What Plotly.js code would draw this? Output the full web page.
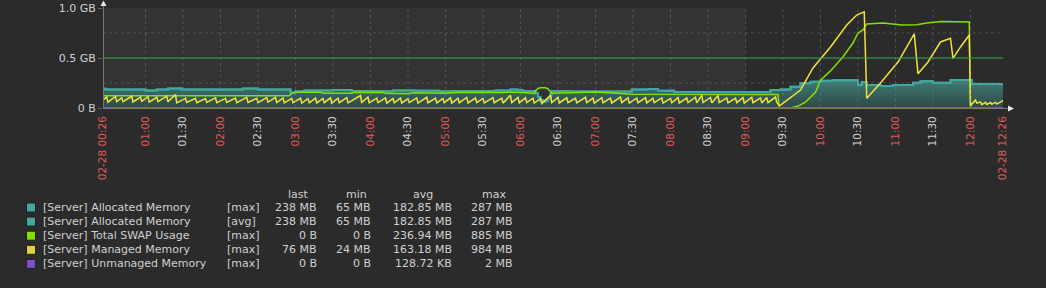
<!DOCTYPE html>
<html><head><meta charset="utf-8">
<script src="https://cdn.plot.ly/plotly-3.0.1.min.js"></script>
<style>html,body{margin:0;padding:0;background:#2b2b2b;}#chart{width:1046px;height:288px;}</style>
</head><body><div id="chart"></div>
<script>
// ---------- data ----------
const DAY = '2024-02-28 ';
const rangeStart = '00:26', rangeEnd = '12:26', workEnd = '09:00';

const tickTimes = ['00:26','01:00','01:30','02:00','02:30','03:00','03:30','04:00','04:30','05:00','05:30','06:00',
  '06:30','07:00','07:30','08:00','08:30','09:00','09:30','10:00','10:30','11:00','11:30','12:00','12:26'];
const tickLabels = ['02-28 00:26','01:00','01:30','02:00','02:30','03:00','03:30','04:00','04:30','05:00','05:30','06:00',
  '06:30','07:00','07:30','08:00','08:30','09:00','09:30','10:00','10:30','11:00','11:30','12:00','02-28 12:26'];

const yTickVals = [0, 512, 1024];           // MB
const yTickLabels = ['0 B', '0.5 GB', '1.0 GB'];
const triggerMB = 512;

// [Server] Allocated Memory (MB)
const allocT = ['00:26','00:28','01:00','01:09','01:18','01:29','02:18','02:30','02:56','03:00','03:07','03:22','03:30','03:45',
  '04:08','04:18','04:35','04:55','05:05','05:40','05:52','05:58','06:02','06:10','06:12','06:14','06:16','06:18','06:20','06:22',
  '06:24','06:25','06:40','07:29','07:42','07:50','08:03','09:20','09:28','09:36','09:44','09:52','10:00','10:10','10:29','10:30',
  '10:33','10:37','10:48','10:58','11:14','11:20','11:30','11:44','12:00','12:01','12:26'];
const allocV = [198,190,180,190,200,190,200,190,160,168,180,178,185,175,
  172,180,176,170,175,178,190,185,175,175,150,110,80,65,75,100,
  140,172,170,190,195,177,164,184,190,218,253,270,280,284,284,235,
  263,235,225,235,259,273,259,287,287,245,238];

// [Server] Total SWAP Usage (MB)
const swapT = ['00:26','02:55','02:57','03:00','03:20','03:22','03:45','03:48','04:10','04:12','04:30','04:35','05:00','05:10',
  '05:45','05:55','06:05','06:11','06:12','06:14','06:16','06:20','06:22','06:24','06:25','07:00','07:30','09:26','09:27','09:36',
  '09:42','09:48','09:52','09:56','10:00','10:08','10:18','10:26','10:30','10:34','10:37','10:50','11:05','11:17','11:25','11:32',
  '11:36','11:59','12:00','12:26'];
const swapV = [125,125,150,162,162,150,150,160,160,150,146,156,150,160,
  160,165,155,150,175,200,208,208,195,165,150,165,140,138,0,0,
  20,60,115,160,285,380,525,665,768,800,860,870,850,852,870,875,
  885,880,0,0];

// [Server] Managed Memory (MB)
const managedT = ['00:26','00:29','00:30','00:36','00:37','00:41','00:42','00:49','00:50','00:56','00:57','01:02','01:03',
  '01:09','01:10','01:17','01:18','01:24','01:25','01:32','01:33','01:40','01:41','01:48','01:49','01:56','01:57','02:04','02:05',
  '02:12','02:13','02:21','02:22','02:29','02:30','02:37','02:38','02:44','02:45','02:50','02:51','02:57','02:58','03:04','03:05',
  '03:10','03:11','03:16','03:17','03:22','03:23','03:28','03:29','03:34','03:35','03:41','03:42','03:52','03:53','03:58','03:59',
  '04:05','04:06','04:12','04:13','04:18','04:19','04:24','04:25','04:30','04:31','04:37','04:38','04:45','04:46','04:52','04:53',
  '04:58','04:59','05:04','05:05','05:10','05:11','05:17','05:18','05:24','05:25','05:30','05:31','05:38','05:39','05:45','05:46',
  '05:52','05:53','05:58','05:59','06:04','06:05','06:10','06:11','06:16','06:17','06:24','06:25','06:30','06:31','06:37','06:38',
  '06:44','06:45','06:52','06:53','06:58','06:59','07:05','07:06','07:12','07:13','07:20','07:21','07:26','07:27','07:33','07:34',
  '07:40','07:41','07:46','07:47','07:53','07:54','08:00','08:01','08:06','08:07','08:13','08:14','08:20','08:21','08:25','08:26',
  '08:32','08:33','08:38','08:39','08:45','08:46','08:52','08:53','08:58','08:59','09:05','09:06','09:12','09:13','09:17','09:18',
  '09:24','09:25','09:27','09:28','09:44','09:54','10:08','10:21','10:29','10:35','10:37','10:48','11:02','11:15','11:18','11:26',
  '11:36','11:44','11:46','11:52','11:59','12:00','12:04','12:05','12:08','12:09','12:12','12:13','12:16','12:17','12:20','12:21','12:26'];
const managedV = [82,112,60,118,64,105,66,120,62,112,68,116,60,
  110,66,122,64,138,52,98,56,100,54,96,58,104,55,98,57,
  102,54,110,58,100,55,106,60,108,56,102,52,98,55,100,50,
  96,54,102,52,98,55,104,50,100,54,106,52,128,58,112,52,
  100,55,104,50,98,54,102,52,96,56,104,50,110,54,100,52,
  98,55,104,50,100,54,108,52,102,55,98,52,106,54,100,50,
  130,56,108,52,104,55,100,50,95,45,130,55,108,52,104,55,
  100,52,110,54,102,50,106,54,100,52,112,55,104,50,100,54,
  106,52,100,55,104,50,98,54,106,52,102,55,110,52,130,56,
  108,52,128,55,104,52,100,55,106,50,110,54,104,52,108,55,
  112,60,24,30,184,410,625,850,952,984,100,256,471,760,350,471,
  676,714,509,625,748,24,82,50,62,35,58,36,56,38,60,40,76];

// [Server] Unmanaged Memory (MB)
const unmanagedT = ['00:26','10:30','10:31','10:32','12:26'];
const unmanagedV = [0,0,2,0,0];

// legend table
const legendNames = ['[Server] Allocated Memory','[Server] Allocated Memory','[Server] Total SWAP Usage','[Server] Managed Memory','[Server] Unmanaged Memory'];
const legendFunc  = ['[max]','[avg]','[max]','[max]','[max]'];
const legendLast  = ['238 MB','238 MB','0 B','76 MB','0 B'];
const legendMin   = ['65 MB','65 MB','0 B','24 MB','0 B'];
const legendAvg   = ['182.85 MB','182.85 MB','236.94 MB','163.18 MB','128.72 KB'];
const legendMax   = ['287 MB','287 MB','885 MB','984 MB','2 MB'];
const legendHeader = ['last','min','avg','max'];

// ---------- style ----------
const C_TEAL = '#40a89f', C_GREEN = '#82e000', C_YELLOW = '#f3e23b', C_PURPLE = '#7b52c8';
const legendColors = [C_TEAL, C_TEAL, C_GREEN, '#e3d13c', C_PURPLE];
const FONT = 'DejaVu Sans, sans-serif';
const TXT = '#d0d0d0', RED = '#e05a5a';
const L = 103, T = 8, PW = 900, PH = 100;
const px = x => (x - L) / PW;      // pixel -> paper
const py = y => (T + PH - y) / PH;
const d = t => DAY + t;

const traces = [
  {x: allocT.map(d), y: allocV, mode: 'lines', line: {color: C_TEAL, width: 2, shape: 'hv'},
   fill: 'tozeroy', fillgradient: {type: 'vertical', start: 0, stop: 1024,
     colorscale: [[0, '#2f4745'], [0.15, '#37635f'], [0.3, '#3f837c'], [1, '#50c2b6']]}},
  {x: allocT.map(d), y: allocV, mode: 'lines', line: {color: C_TEAL, width: 2, shape: 'hv'}},
  {x: swapT.map(d), y: swapV, mode: 'lines', line: {color: C_GREEN, width: 1.5}},
  {x: managedT.map(d), y: managedV, mode: 'lines', line: {color: C_YELLOW, width: 1.5}},
  {x: unmanagedT.map(d), y: unmanagedV, mode: 'lines', line: {color: C_PURPLE, width: 2}}
];

const shapes = [];
// work-period shading
shapes.push({type: 'rect', xref: 'x', yref: 'paper', x0: d(rangeStart), x1: d(workEnd), y0: 0, y1: 1,
  fillcolor: '#333333', line: {width: 0}, layer: 'below'});
// grid
tickTimes.slice(1, -1).forEach(t => shapes.push({type: 'line', xref: 'x', yref: 'paper', x0: d(t), x1: d(t), y0: 0, y1: 1,
  line: {color: 'rgba(130,130,130,0.4)', width: 1, dash: '3px,3px'}, layer: 'above'}));
[256, 768].forEach(v => shapes.push({type: 'line', xref: 'paper', yref: 'y', x0: 0, x1: 1, y0: v, y1: v,
  line: {color: 'rgba(130,130,130,0.4)', width: 1, dash: '3px,3px'}, layer: 'above'}));
// trigger line
shapes.push({type: 'line', xref: 'paper', yref: 'y', x0: 0, x1: 1, y0: triggerMB, y1: triggerMB,
  line: {color: '#34a857', width: 1}, layer: 'above'});
// axes with arrows
shapes.push({type: 'line', xref: 'paper', yref: 'paper', x0: px(103.5), x1: px(103.5), y0: py(108), y1: py(3),
  line: {color: '#777777', width: 1}, layer: 'above'});
shapes.push({type: 'line', xref: 'paper', yref: 'paper', x0: px(103), x1: px(1008), y0: py(108.5), y1: py(108.5),
  line: {color: '#777777', width: 1}, layer: 'above'});
shapes.push({type: 'path', xref: 'paper', yref: 'paper',
  path: `M ${px(100.5)} ${py(6)} L ${px(106.5)} ${py(6)} L ${px(103.5)} ${py(0.5)} Z`,
  fillcolor: '#e8e8e8', line: {width: 0}, layer: 'above'});
shapes.push({type: 'path', xref: 'paper', yref: 'paper',
  path: `M ${px(1008)} ${py(105.5)} L ${px(1008)} ${py(111.5)} L ${px(1014)} ${py(108.5)} Z`,
  fillcolor: '#e8e8e8', line: {width: 0}, layer: 'above'});

const annotations = [];
const rowY = i => 207.5 + i * 14.1;
const colRight = [319, 373, 454, 515];
const colCenter = [298, 356, 423, 494];
legendHeader.forEach((h, j) => annotations.push({xref: 'paper', yref: 'paper', x: px(colCenter[j]), y: py(194),
  text: h, showarrow: false, xanchor: 'center', yanchor: 'middle', font: {family: FONT, size: 11, color: TXT}}));
legendNames.forEach((n, i) => {
  shapes.push({type: 'rect', xref: 'paper', yref: 'paper', x0: px(26.5), x1: px(35.5), y0: py(rowY(i) - 4.5), y1: py(rowY(i) + 4.5),
    fillcolor: legendColors[i], line: {color: '#1e1e1e', width: 1}});
  annotations.push({xref: 'paper', yref: 'paper', x: px(41), y: py(rowY(i)), text: n, showarrow: false,
    xanchor: 'left', yanchor: 'middle', font: {family: FONT, size: 11, color: TXT}});
  annotations.push({xref: 'paper', yref: 'paper', x: px(225), y: py(rowY(i)), text: legendFunc[i], showarrow: false,
    xanchor: 'left', yanchor: 'middle', font: {family: FONT, size: 11, color: TXT}});
  [legendLast[i], legendMin[i], legendAvg[i], legendMax[i]].forEach((v, j) =>
    annotations.push({xref: 'paper', yref: 'paper', x: px(colRight[j]), y: py(rowY(i)), text: v, showarrow: false,
      xanchor: 'right', yanchor: 'middle', font: {family: FONT, size: 11, color: TXT}}));
});

const tickText = tickLabels.map(s => {
  const red = s.length > 5 || s.endsWith(':00');
  return red ? `<span style="color:${RED}">${s}</span>` : s;
});

const layout = {
  width: 1046, height: 288,
  margin: {l: L, r: 1046 - L - PW, t: T, b: 288 - T - PH, pad: 0},
  paper_bgcolor: '#2b2b2b', plot_bgcolor: '#2b2b2b',
  showlegend: false,
  font: {family: FONT, color: TXT},
  xaxis: {type: 'date', range: [d(rangeStart), d(rangeEnd)], tickmode: 'array', tickvals: tickTimes.map(d), ticktext: tickText,
    tickangle: -90, tickfont: {family: FONT, size: 10.5, color: '#d0d0d0'}, showgrid: false, zeroline: false, showline: false,
    ticks: 'outside', ticklen: 3, tickcolor: 'rgba(0,0,0,0)', fixedrange: true},
  yaxis: {range: [0, 1024], tickmode: 'array', tickvals: yTickVals, ticktext: yTickLabels,
    tickfont: {family: FONT, size: 11, color: TXT}, showgrid: false, zeroline: false, showline: false,
    ticks: 'outside', ticklen: 4, tickcolor: '#666666', fixedrange: true},
  shapes, annotations
};

Plotly.newPlot('chart', traces, layout, {staticPlot: true, displayModeBar: false});
</script>
</body></html>
